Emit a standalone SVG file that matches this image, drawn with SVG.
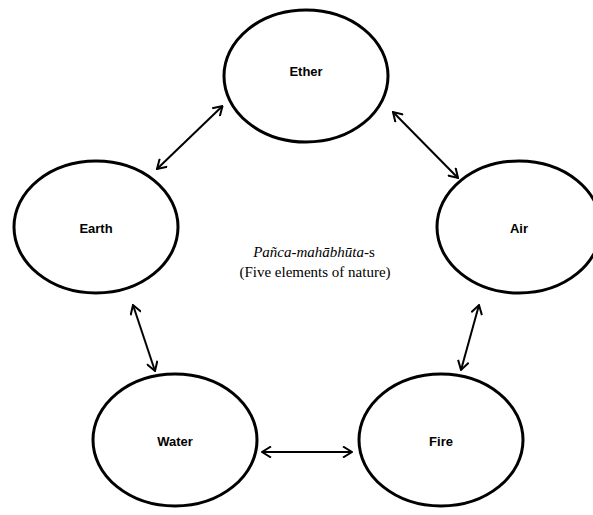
<svg xmlns="http://www.w3.org/2000/svg" width="593" height="515" viewBox="0 0 593 515">
<style>
.node ellipse{fill:#fff;stroke:#000;stroke-width:3}
.node text{font-family:"Liberation Sans",Arial,sans-serif;font-weight:bold;font-size:13px;text-anchor:middle;fill:#000}
.conn line{stroke:#000;stroke-width:2;fill:none}
.cap{font-family:"Liberation Serif","Times New Roman",serif;font-size:15px;text-anchor:middle;fill:#000}
</style>
<defs>
<marker id="ah" viewBox="0 0 12 12" refX="11" refY="6" markerWidth="12" markerHeight="12" markerUnits="userSpaceOnUse" orient="auto-start-reverse">
<path d="M2,0.5 L11,6 L2,11.5" fill="none" stroke="#000" stroke-width="2" stroke-linejoin="miter"/>
</marker>
</defs>
<rect width="593" height="515" fill="#fff"/>
<g id="ether" class="node"><ellipse cx="306" cy="76" rx="82" ry="66"/><text x="306" y="76">Ether</text></g>
<g id="earth" class="node"><ellipse cx="96" cy="227" rx="82" ry="66"/><text x="96" y="233">Earth</text></g>
<g id="air" class="node"><ellipse cx="519" cy="227" rx="82" ry="66"/><text x="519" y="233">Air</text></g>
<g id="water" class="node"><ellipse cx="175" cy="440" rx="82" ry="66"/><text x="175" y="446">Water</text></g>
<g id="fire" class="node"><ellipse cx="441" cy="440" rx="82" ry="66"/><text x="441" y="446">Fire</text></g>
<g id="connectors" class="conn">
<line x1="157" y1="169" x2="222.5" y2="106" marker-start="url(#ah)" marker-end="url(#ah)"/>
<line x1="393" y1="112" x2="458" y2="178" marker-start="url(#ah)" marker-end="url(#ah)"/>
<line x1="133" y1="305" x2="155" y2="371" marker-start="url(#ah)" marker-end="url(#ah)"/>
<line x1="479" y1="305" x2="461" y2="370" marker-start="url(#ah)" marker-end="url(#ah)"/>
<line x1="262" y1="452" x2="352" y2="452" marker-start="url(#ah)" marker-end="url(#ah)"/>
</g>
<g id="caption">
<text class="cap" x="314" y="257"><tspan font-style="italic">Pañca-mahābhūta</tspan>-s</text>
<text class="cap" x="315" y="277">(Five elements of nature)</text>
</g>
</svg>
